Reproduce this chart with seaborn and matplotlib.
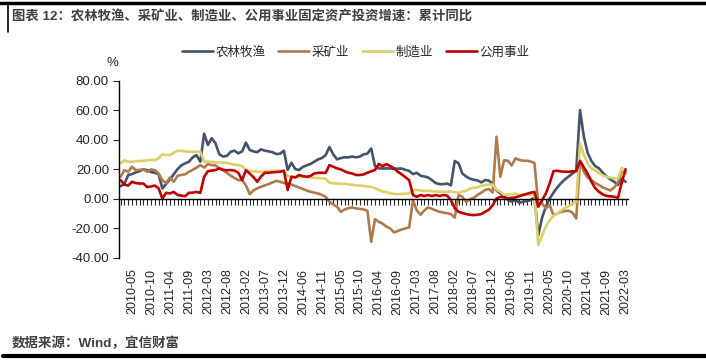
import matplotlib
matplotlib.use("Agg")
import matplotlib.pyplot as plt
import matplotlib.ticker as mticker
from matplotlib.lines import Line2D
import pandas as pd
import seaborn as sns

# monthly cumulative data, January is not published (Feb..Dec each year)
months = [f"{y}-{m:02d}" for y in range(2010, 2023) for m in range(2, 13)][:134]

agri = [
    8.4, 10.0, 16.0, 16.6, 17.8, 18.6, 19.8, 19.3, 18.0, 17.5, 16.6,
    6.8, 10.0, 13.0, 16.5, 20.0, 22.5, 23.9, 25.0, 28.0, 29.5, 25.0,
    44.0, 36.4, 41.0, 37.5, 30.0, 28.5, 29.0, 31.8, 32.5, 30.7, 32.0,
    38.0, 33.0, 32.0, 31.5, 33.4, 32.5, 32.0, 31.5, 30.2, 30.5, 32.5,
    19.5, 24.3, 20.0, 19.4, 21.5, 22.5, 23.5, 25.0, 26.6, 27.5, 29.5,
    35.0, 30.0, 26.6, 27.5, 28.0, 28.0, 28.5, 28.0, 28.5, 30.0, 30.5,
    34.0, 22.0, 20.5, 20.4, 20.5, 20.4, 20.2, 20.3, 20.4, 19.5, 18.8,
    16.6, 17.5, 15.5, 15.0, 14.3, 12.5, 10.5, 9.8, 9.8, 10.2, 9.0,
    25.5, 24.0, 17.0, 15.0, 13.5, 12.8, 12.3, 11.0, 12.6, 12.2, 10.0,
    5.5, 3.5, 1.5, -1.0, -2.0, -1.0, -2.8, -2.2, -1.7, -1.0, 0.7,
    -25.0, -13.0, -5.5, 0.0, 4.0, 7.5, 10.5, 13.0, 15.0, 17.0, 19.0,
    60.0, 42.0, 31.0, 25.5, 22.0, 20.5, 17.5, 15.0, 13.0, 11.4, 9.3,
    13.5, 11.4,
]

mining = [
    14.8, 19.3, 18.2, 21.6, 19.3, 19.5, 19.8, 18.2, 19.8, 19.3, 17.0,
    12.5, 10.5, 14.3, 11.4, 15.5, 16.0, 16.5, 18.2, 19.5, 21.0, 22.7,
    21.0, 23.4, 22.7, 22.5, 20.5, 19.3, 17.5, 15.5, 14.0, 12.5, 12.5,
    9.0, 3.0, 5.5, 7.0, 8.0, 9.0, 9.8, 11.0, 12.0, 11.4, 10.5,
    10.5, 9.5, 8.5, 7.5, 6.5, 5.5, 4.6, 4.0, 3.5, 2.5, 1.2,
    -2.2, -4.0, -5.5, -9.0, -7.4, -6.5, -6.0, -6.7, -7.0, -7.4, -8.3,
    -29.3, -14.0, -15.8, -17.0, -19.0, -20.3, -23.0, -22.0, -21.0, -20.3, -19.6,
    -1.0, -8.0, -11.0, -8.0, -6.0, -7.0, -8.0, -9.0, -9.5, -10.0, -10.5,
    -13.0, 2.4, 1.2, -2.2, -0.5, 0.5, 2.5, 4.0, 5.8, 6.5, 4.1,
    42.0, 14.8, 26.0, 25.7, 22.5, 27.3, 26.2, 25.7, 25.7, 25.2, 24.1,
    -3.5, -3.3, -6.7, -4.4, -11.2, -10.2, -9.0, -8.5, -8.3, -9.6, -13.5,
    25.0, 18.2, 14.4, 12.6, 10.5, 9.2, 7.6, 6.5, 5.5, 7.5, 10.9,
    19.0, 18.0,
]

manuf = [
    23.9, 26.0, 25.0, 25.0, 25.3, 25.5, 25.6, 26.0, 26.3, 26.0, 27.3,
    30.0, 29.5, 29.5, 31.0, 32.5, 32.3, 32.0, 31.8, 31.8, 31.8, 31.8,
    25.0, 25.0, 24.8, 24.5, 24.5, 24.5, 24.2, 23.5, 23.0, 22.7, 22.0,
    19.3, 18.5, 18.5, 18.3, 18.2, 18.5, 18.6, 18.8, 19.0, 18.9, 18.5,
    15.2, 14.9, 14.6, 14.4, 14.8, 14.6, 14.3, 14.0, 13.9, 13.7, 13.5,
    10.7, 10.4, 10.2, 9.9, 10.1, 9.6, 9.4, 9.0, 8.8, 8.6, 8.1,
    8.0, 6.9, 6.0, 4.8, 4.4, 3.6, 3.1, 3.0, 3.1, 3.3, 3.5,
    5.8, 5.8, 5.5, 5.1, 5.3, 5.0, 4.8, 4.6, 4.6, 4.5, 4.8,
    4.3, 3.8, 4.8, 5.2, 6.8, 7.3, 7.5, 8.7, 9.1, 9.5, 9.5,
    5.9, 4.6, 2.5, 2.7, 3.0, 3.3, 2.6, 2.5, 2.6, 2.5, 3.1,
    -31.5, -25.2, -18.8, -14.8, -11.7, -10.2, -8.1, -6.5, -5.3, -3.5, -2.2,
    37.3, 29.8, 23.8, 20.4, 19.2, 17.3, 15.7, 14.8, 14.2, 13.7, 13.5,
    20.9, 17.0,
]

utility = [
    12.5, 9.5, 8.8, 11.4, 10.5, 10.2, 10.2, 7.8, 8.2, 8.8, 7.0,
    0.0, 3.9, 3.5, 4.5, 2.5, 2.0, 1.6, 3.9, 4.0, 4.5, 3.9,
    14.8, 18.6, 19.0, 19.3, 20.5, 19.5, 19.3, 19.3, 19.0, 17.5, 12.5,
    19.3, 17.0, 14.5, 11.4, 15.0, 17.5, 17.5, 17.8, 18.0, 18.2, 18.9,
    5.8, 14.8, 14.3, 16.0, 15.2, 14.8, 15.3, 17.0, 17.5, 17.5, 17.5,
    22.7, 21.6, 20.5, 19.8, 18.5, 17.5, 17.0, 16.0, 16.0, 16.4, 17.5,
    18.5, 19.4, 23.5, 22.0, 23.4, 22.0, 20.5, 18.2, 16.5, 14.5, 12.5,
    2.4, 1.2, 2.4, 1.7, 2.4, 1.7, 2.4, 1.7, 2.4, 2.0, -1.0,
    -6.5, -9.0, -9.8, -10.5, -11.0, -11.2, -11.0, -10.5, -9.0, -7.5, -4.5,
    0.0, 1.2, 0.8, 0.2, 0.5, 0.8, 1.6, 2.4, 3.2, 4.0, 4.5,
    -5.5, -1.1, 3.5, 10.3, 18.6, 18.9, 18.4, 18.2, 18.2, 18.5, 18.6,
    25.6, 21.3, 17.0, 11.5, 7.0, 4.6, 2.8, 1.8, 1.5, 1.2, 0.5,
    11.0, 20.0,
]

series_names = ["农林牧渔", "采矿业", "制造业", "公用事业"]
colors = ["#44546A", "#B07A4C", "#DCD06C", "#C00000"]

sns.set_style("ticks")
plt.rcParams["font.family"] = ["Liberation Sans", "Noto Sans CJK SC"]

frames = []
for name, vals in zip(series_names, [agri, mining, manuf, utility]):
    frames.append(pd.DataFrame({"idx": range(len(months)), "month": months,
                                "value": vals, "series": name}))
df = pd.concat(frames, ignore_index=True)

W, H = 706, 363
fig = plt.figure(figsize=(W / 100, H / 100), dpi=100)
ax = fig.add_axes([118.7 / W, 1 - 257.5 / H, (627.5 - 118.7) / W, (257.5 - 80.7) / H])

sns.lineplot(data=df, x="idx", y="value", hue="series", hue_order=series_names,
             palette=colors, linewidth=1.9, ax=ax)
handles, labels = ax.get_legend_handles_labels()
ax.get_legend().remove()

ax.set_xlim(-0.5, len(months) - 0.5)
ax.set_ylim(-40, 80)
ax.set_yticks(range(-40, 81, 20))
ax.yaxis.set_major_formatter(mticker.FormatStrFormatter("%.2f"))
ax.set_xlabel("")
ax.set_ylabel("")

# zero line carries the small monthly ticks
ax.spines["bottom"].set_position(("data", 0))
ax.spines["top"].set_visible(False)
ax.spines["right"].set_visible(False)
for s in ["left", "bottom"]:
    ax.spines[s].set_color("black")
    ax.spines[s].set_linewidth(1.0)
ax.set_xticks(range(len(months)))
ax.tick_params(axis="x", direction="out", length=4, width=0.8, labelbottom=False)
ax.tick_params(axis="y", direction="out", length=4, width=0.8, labelsize=9.5, pad=3)

# date labels at the bottom, every 5th point
tick_pos = list(range(3, len(months), 5))
secax = ax.secondary_xaxis("bottom")
secax.set_xticks(tick_pos, labels=[months[i] for i in tick_pos], rotation=90)
secax.tick_params(length=0, pad=8, labelsize=9)
secax.spines["bottom"].set_visible(False)

fig.text(112 / W, 1 - 63 / H, "%", fontsize=9.5, ha="center", va="center")

fig.legend(handles, labels, loc="center", bbox_to_anchor=(355.5 / W, 1 - 52.7 / H),
           ncol=4, frameon=False, fontsize=9, handlelength=2.5,
           handletextpad=0.2, columnspacing=1.0)

fig.text(12 / W, 1 - 17 / H, "图表 12：农林牧渔、采矿业、制造业、公用事业固定资产投资增速：累计同比",
         fontsize=9.6, fontweight="bold", color="#404040", va="center")
fig.text(12 / W, 1 - 343 / H, "数据来源：Wind，宜信财富",
         fontsize=9.7, fontweight="bold", color="#404040", va="center")

# frame lines of the report page
fig.add_artist(Line2D([0, 1], [1 - 2.5 / H, 1 - 2.5 / H], color="black", lw=2.5))
fig.add_artist(Line2D([8 / W, 8 / W], [1 - 2.5 / H, 1 - 32 / H], color="black", lw=1.2))
fig.add_artist(Line2D([3 / W, 1], [1 - 356 / H, 1 - 356 / H], color="black", lw=3))

fig.savefig("out.png", dpi=100)
